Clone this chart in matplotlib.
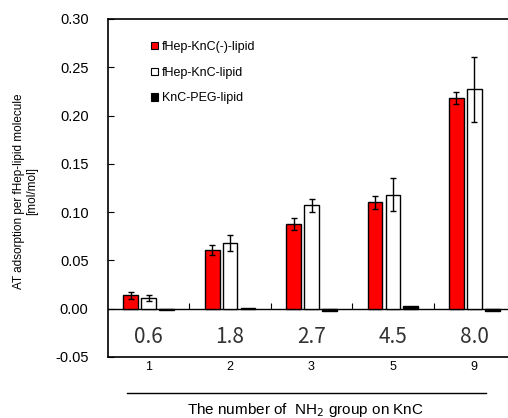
import numpy as np
import matplotlib
matplotlib.use("Agg")
from matplotlib import pyplot as plt
from matplotlib.lines import Line2D

plt.rcParams['font.family'] = ['Liberation Sans', 'DejaVu Sans']

# data
nh2_counts = ['1', '2', '3', '5', '9']
ratio_labels = ['0.6', '1.8', '2.7', '4.5', '8.0']
series_names = ['fHep-KnC(-)-lipid', 'fHep-KnC-lipid', 'KnC-PEG-lipid']
knc_minus = [0.014, 0.061, 0.088, 0.110, 0.218]
knc_minus_err = [0.0035, 0.005, 0.006, 0.007, 0.006]
knc = [0.011, 0.068, 0.107, 0.118, 0.227]
knc_err = [0.003, 0.008, 0.007, 0.017, 0.034]
knc_peg = [-0.001, 0.0006, -0.0024, 0.0024, -0.0022]

fig = plt.figure(figsize=(5.08, 4.18), dpi=100)
ax = fig.add_axes([108 / 508, 61 / 418, 407 / 508, 338 / 418])

x = np.arange(len(nh2_counts))
w = 0.18
step = 0.22
ekw = dict(ecolor='black', elinewidth=1, capsize=2.5, capthick=1)
ax.bar(x - step, knc_minus, w, yerr=knc_minus_err, color='#ff0000',
       edgecolor='black', linewidth=1, error_kw=ekw)
ax.bar(x, knc, w, yerr=knc_err, color='white',
       edgecolor='black', linewidth=1, error_kw=ekw)
ax.bar(x + step, knc_peg, w, color='black', edgecolor='black', linewidth=1)

ax.set_xlim(-0.5, len(x) - 0.5)
ax.set_ylim(-0.05, 0.30)
ax.set_yticks(np.arange(-0.05, 0.301, 0.05))
ax.yaxis.set_major_formatter(matplotlib.ticker.FormatStrFormatter('%.2f'))
ax.tick_params(axis='y', direction='in', length=4, labelsize=10.5, pad=14)
ax.set_xticks(x)
ax.set_xticklabels(nh2_counts)
ax.tick_params(axis='x', length=0, labelsize=9, pad=3)
for s in ['top', 'bottom', 'left', 'right']:
    ax.spines[s].set_linewidth(1.2)

# zero line with small group-separator ticks
zero_pos = (0 - (-0.05)) / 0.35
sec = ax.secondary_xaxis(zero_pos)
sec.set_xticks(np.arange(0.5, len(x) - 0.5, 1))
sec.tick_params(direction='in', length=4, labelbottom=False, labeltop=False)
sec.spines['bottom'].set_linewidth(1)

for i, lab in enumerate(ratio_labels):
    ax.text(x[i], -0.029, lab, ha='center', va='center', fontsize=15,
            color='#333333', family=['Noto Sans CJK JP', 'DejaVu Sans'])

ax.set_ylabel('AT adsorption per fHep-lipid molecule\n[mol/mol]',
              fontsize=8.5, linespacing=1.15)
ax.yaxis.set_label_coords(-0.172, 0.49)

handles = [plt.Rectangle((0, 0), 1, 1, facecolor=c, edgecolor='black', linewidth=0.8)
           for c in ['#ff0000', 'white', 'black']]
ax.legend(handles, series_names, loc='upper left', bbox_to_anchor=(0.105, 0.935),
          frameon=False, fontsize=9, handlelength=0.55, handleheight=0.55,
          handletextpad=0.35, labelspacing=1.1, borderpad=0, borderaxespad=0)

fig.add_artist(Line2D([127 / 508, 486 / 508], [1 - 393 / 418, 1 - 393 / 418],
                      color='black', linewidth=1))
fig.text(305 / 508, 1 - 410 / 418, 'The number of  NH$_2$ group on KnC',
         ha='center', va='center', fontsize=11)

fig.savefig('out.png', dpi=100)
